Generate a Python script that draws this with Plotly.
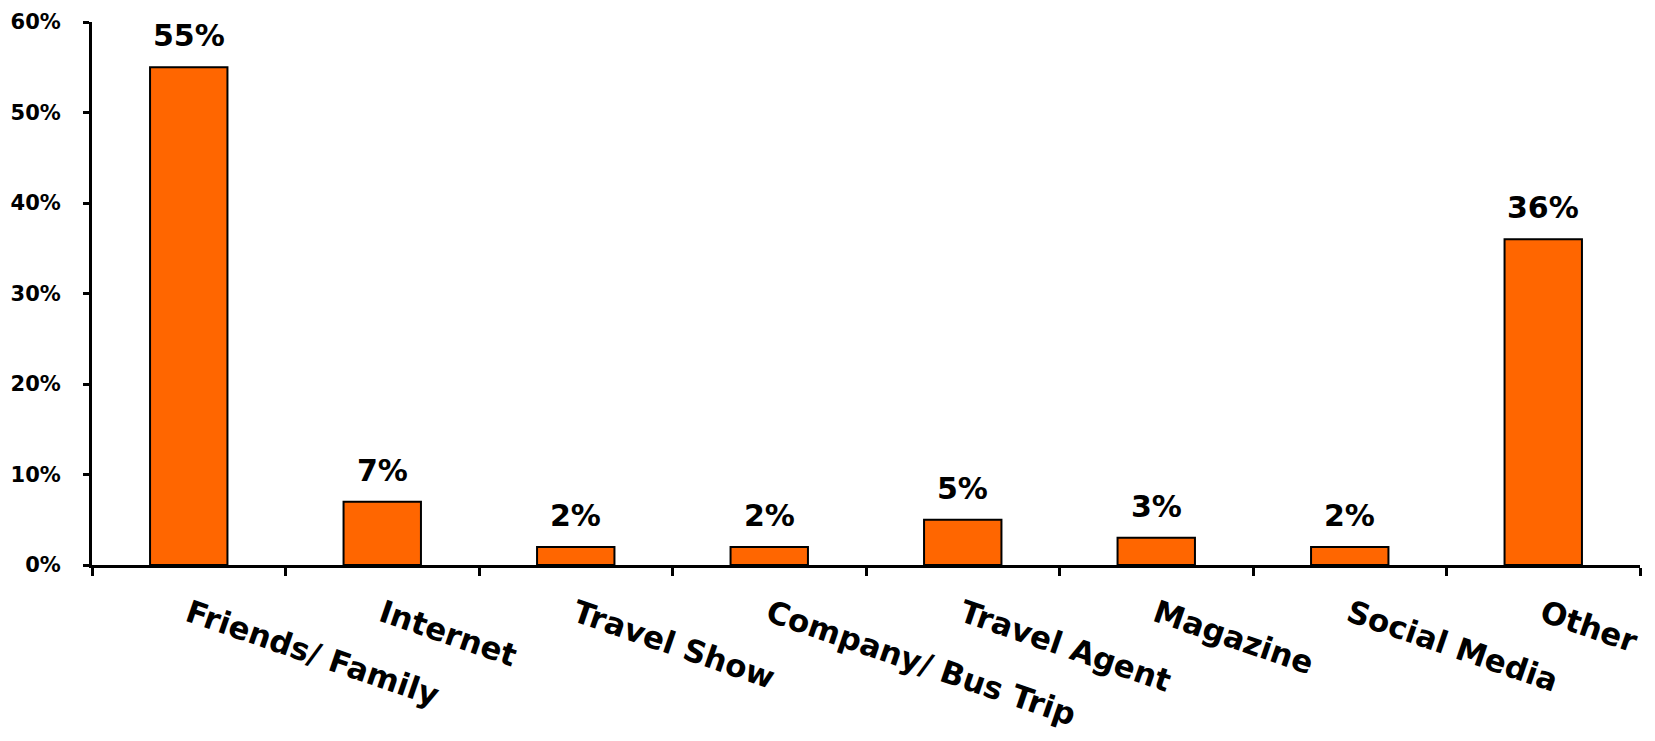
import plotly.graph_objects as go

categories = ["Friends/ Family", "Internet", "Travel Show", "Company/ Bus Trip",
              "Travel Agent", "Magazine", "Social Media", "Other"]
values = [55, 7, 2, 2, 5, 3, 2, 36]
value_labels = ["55%", "7%", "2%", "2%", "5%", "3%", "2%", "36%"]
y_ticks = [0, 10, 20, 30, 40, 50, 60]
y_tick_labels = ["0%", "10%", "20%", "30%", "40%", "50%", "60%"]

FONT = "Century Gothic, DejaVu Sans, Lato, sans-serif"

fig = go.Figure(go.Bar(
    x=categories, y=values,
    width=0.4,
    marker=dict(color="#FF6600", line=dict(color="black", width=2)),
    cliponaxis=False,
))

for c, v, t in zip(categories, values, value_labels):
    fig.add_annotation(
        x=c, y=v, text=t, showarrow=False,
        yanchor="bottom", yshift=12,
        font=dict(family=FONT, size=30, color="black", weight="bold"),
    )

fig.update_layout(
    width=1655, height=741,
    margin=dict(l=84, r=23, t=14, b=184),
    plot_bgcolor="white", paper_bgcolor="white",
    showlegend=False,
    font=dict(family=FONT, color="black"),
)
fig.update_yaxes(
    range=[0, 60], tickvals=y_ticks, ticktext=y_tick_labels,
    showgrid=False, zeroline=False, automargin=False,
    showline=True, linecolor="black", linewidth=3,
    ticks="outside", ticklen=6, tickwidth=3, tickcolor="black",
    ticklabelstandoff=18,
    tickfont=dict(family=FONT, size=21, color="black", weight="bold"),
)
fig.update_xaxes(
    showgrid=False, automargin=False,
    showline=True, linecolor="black", linewidth=3,
    ticks="outside", tickson="boundaries", ticklen=8, tickwidth=3, tickcolor="black",
    tickangle=19, ticklabelstandoff=16,
    tickfont=dict(family=FONT, size=31, color="black", weight="bold"),
)

fig.write_html("out.html")
